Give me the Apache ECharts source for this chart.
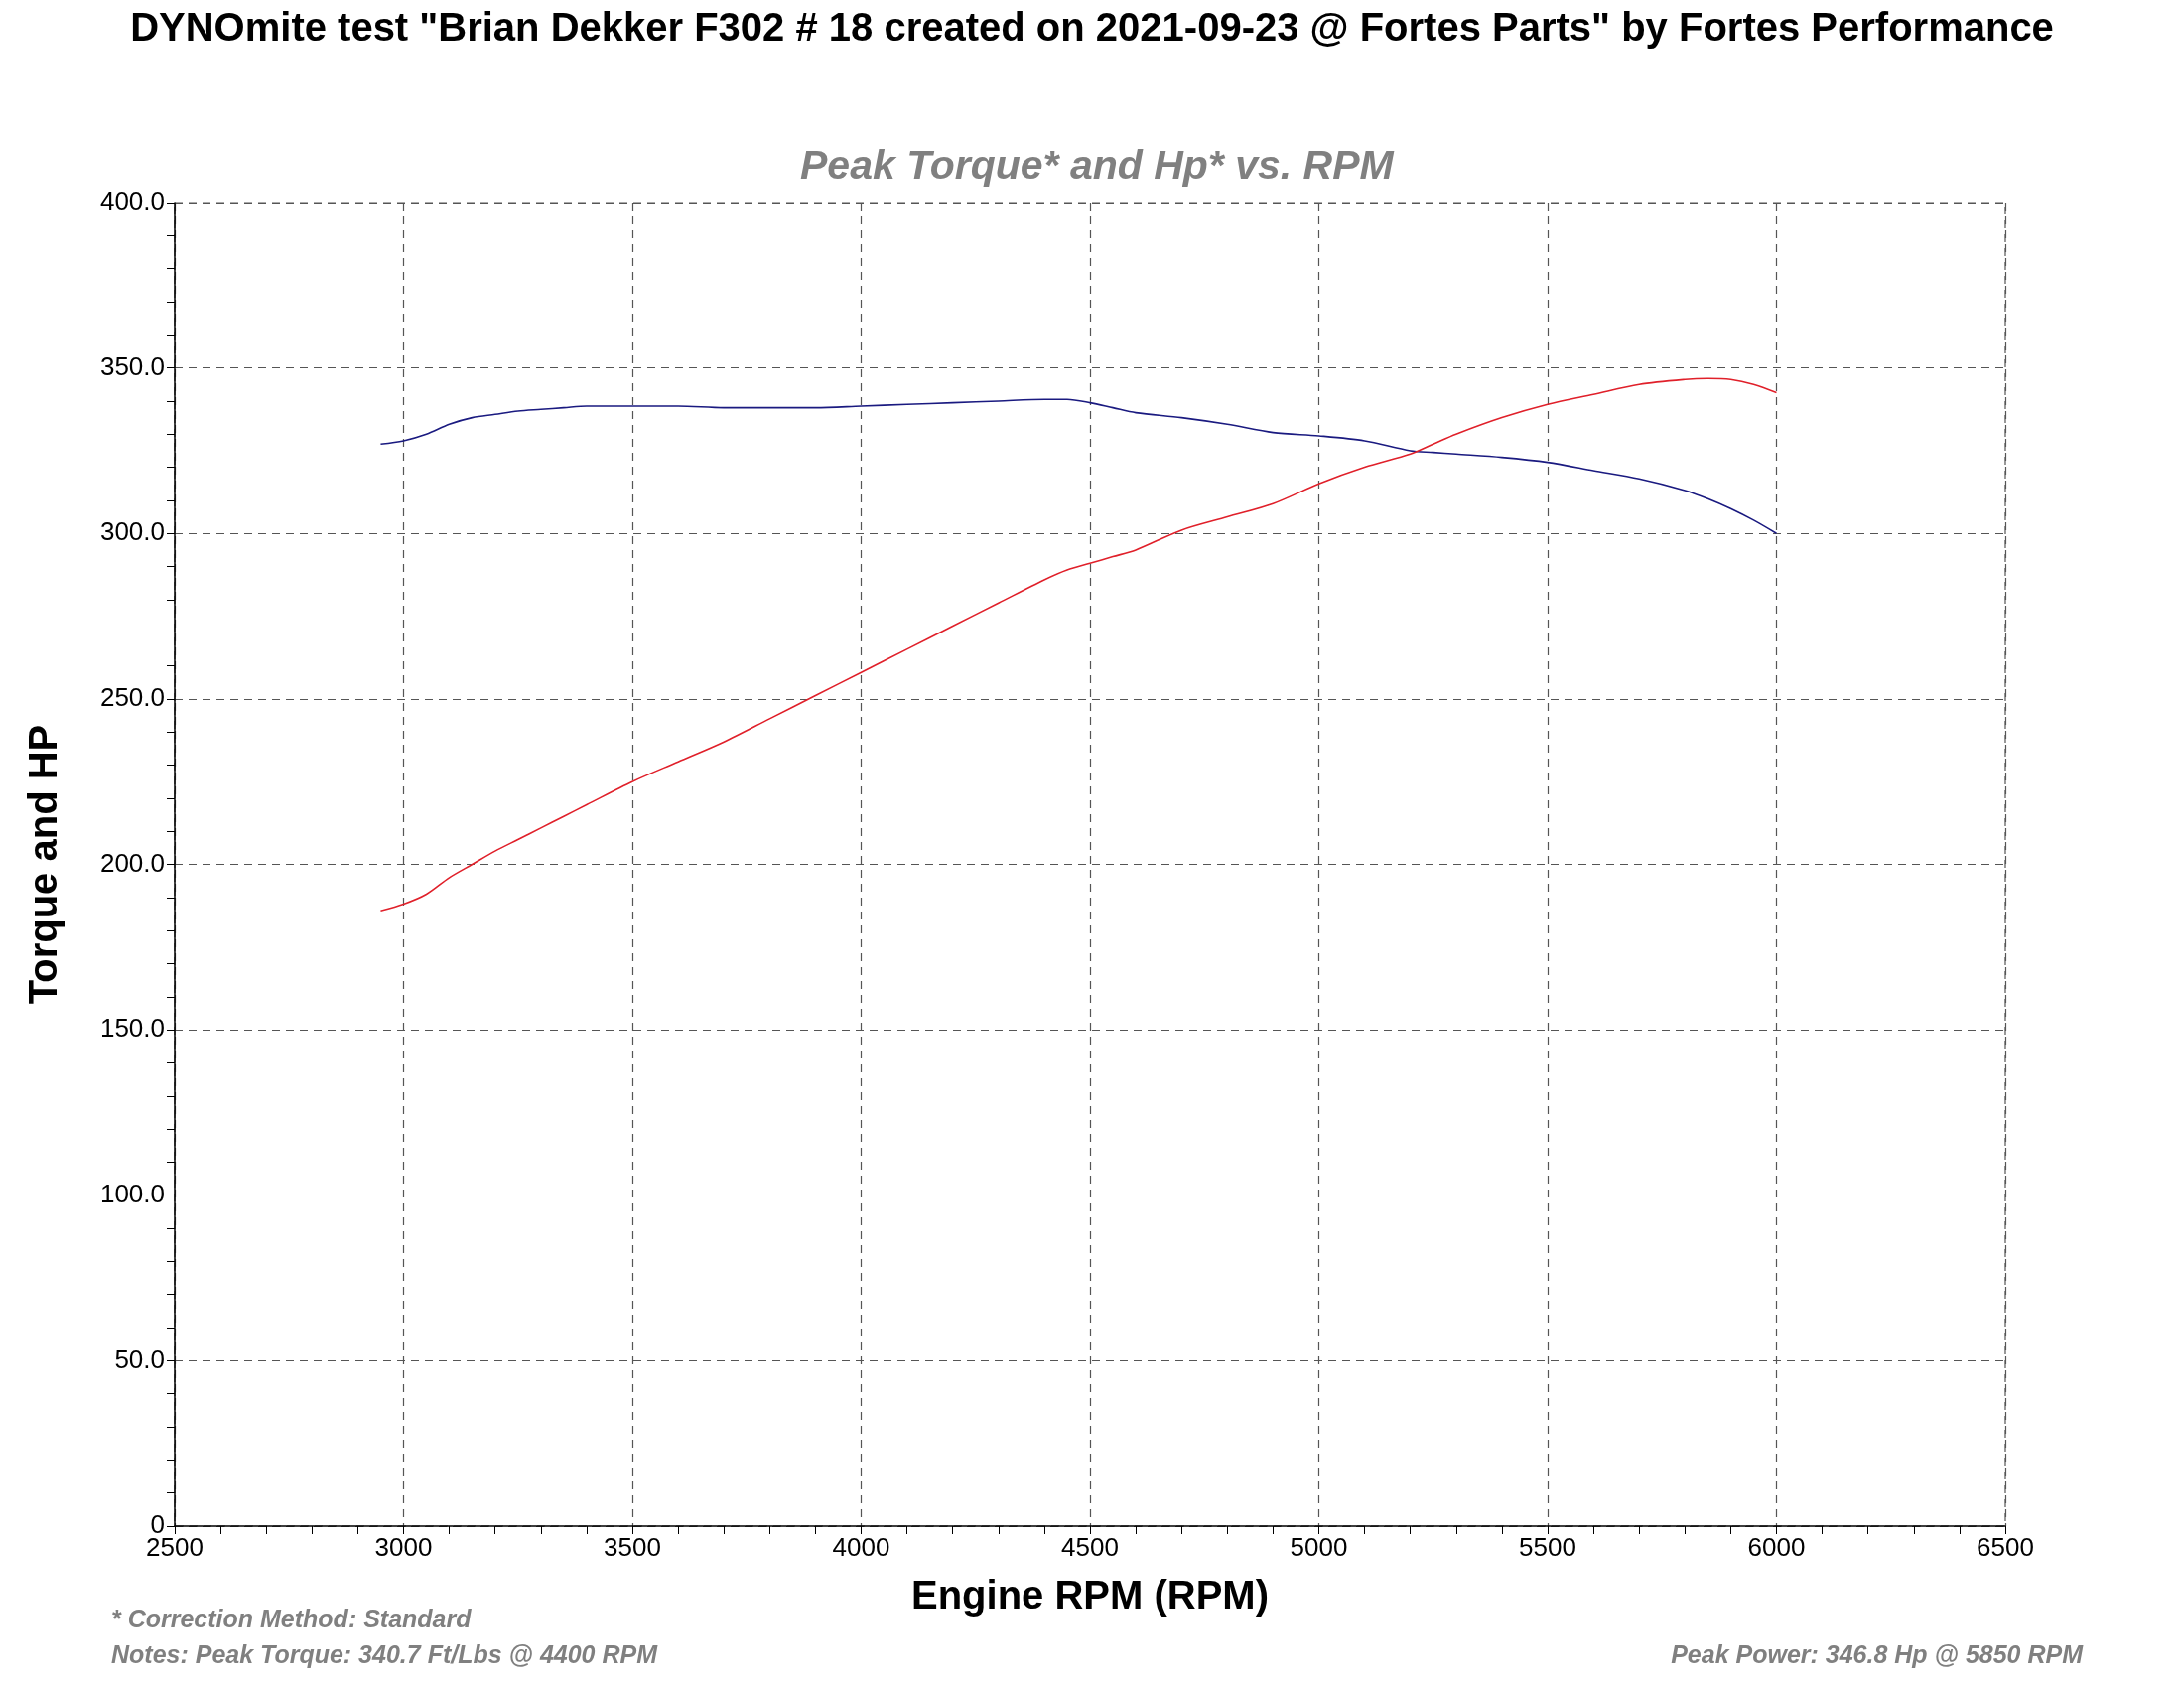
<!DOCTYPE html>
<html>
<head>
<meta charset="utf-8">
<script src="https://cdn.jsdelivr.net/npm/echarts@6/dist/echarts.min.js"></script>
<style>
  html, body { margin: 0; padding: 0; background: #fff; }
  #chart { width: 2200px; height: 1700px; }
</style>
</head>
<body>
<div id="chart"></div>
<script>
  var RPM = [2950, 3000, 3050, 3100, 3150, 3200, 3250, 3300, 3350, 3400, 3500, 3600, 3700, 3800, 3900,
             4000, 4100, 4200, 4300, 4400, 4450, 4500, 4550, 4600, 4700, 4800, 4900, 5000, 5100, 5200,
             5250, 5300, 5400, 5500, 5600, 5700, 5800, 5850, 5900, 5950, 6000];
  var TORQUE = [327, 328, 330, 333, 335, 336, 337, 337.5, 338, 338.5, 338.5, 338.5, 338, 338, 338,
                338.5, 339, 339.5, 340, 340.5, 340.5, 339.5, 338, 336.5, 335, 333, 330.5, 329.5, 328, 325,
                324.5, 324, 323, 321.5, 319, 316.5, 313, 310.5, 307.5, 304, 300];
  var HP = [186, 188, 191, 196, 200, 204, 207.5, 211, 214.5, 218, 225, 231, 237, 244, 251,
            258, 265, 272, 279, 286, 289, 291, 293, 295, 301, 305, 309, 315, 320, 324,
            327, 330, 335, 339, 342, 345, 346.5, 346.8, 346.5, 345, 342.5];

  var chart = echarts.init(document.getElementById("chart"), null, { renderer: "canvas" });
  var FONT = "Liberation Sans, Arial, sans-serif";
  var L = 176, R = 180, T = 204, B = 163;

  function pair(ys) { return RPM.map(function (x, i) { return [x, ys[i]]; }); }

  chart.setOption({
    backgroundColor: "#fff",
    animation: false,
    grid: { left: L, right: R, top: T, bottom: B },
    graphic: [
      { type: "text", left: "center", top: 10,
        style: { text: 'DYNOmite test "Brian Dekker F302 # 18 created on 2021-09-23 @ Fortes Parts" by Fortes Performance',
                 font: "bold 40px " + FONT, fill: "#000" } },
      { type: "text", left: 806, top: 148,
        style: { text: "Peak Torque* and Hp* vs. RPM", font: "italic bold 41px " + FONT, fill: "#808080" } },
      { type: "text", left: 112, top: 1620,
        style: { text: "* Correction Method: Standard", font: "italic bold 25px " + FONT, fill: "#808080" } },
      { type: "text", left: 112, top: 1656,
        style: { text: "Notes: Peak Torque: 340.7 Ft/Lbs @ 4400 RPM", font: "italic bold 25px " + FONT, fill: "#808080" } },
      { type: "text", right: 102, top: 1656,
        style: { text: "Peak Power: 346.8 Hp @ 5850 RPM", font: "italic bold 25px " + FONT, fill: "#808080" } },
      { type: "rect", shape: { x: L, y: T, width: 2200 - L - R, height: 1700 - T - B },
        style: { fill: "none", stroke: "#555", lineWidth: 1.2, lineDash: [8, 6] }, z: 0, silent: true }
    ],
    xAxis: {
      type: "value", min: 2500, max: 6500, interval: 500,
      name: "Engine RPM (RPM)", nameLocation: "middle", nameGap: 52,
      nameTextStyle: { fontFamily: FONT, fontWeight: "bold", fontSize: 40, color: "#000" },
      axisLine: { onZero: false, lineStyle: { color: "#000", width: 1.5 } },
      axisTick: { show: true, length: 8, lineStyle: { color: "#000" } },
      minorTick: { show: true, splitNumber: 5, length: 8, lineStyle: { color: "#000" } },
      axisLabel: { fontFamily: FONT, fontSize: 26, color: "#000", margin: 10,
                   formatter: function (v) { return String(v); } },
      splitLine: { show: true, lineStyle: { color: "#555", type: [8, 6], width: 1.2 } }
    },
    yAxis: {
      type: "value", min: 0, max: 400, interval: 50,
      name: "Torque and HP", nameLocation: "middle", nameGap: 110,
      nameTextStyle: { fontFamily: FONT, fontWeight: "bold", fontSize: 40, color: "#000" },
      axisLine: { show: true, lineStyle: { color: "#000", width: 1.5 } },
      axisTick: { show: true, length: 8, lineStyle: { color: "#000" } },
      minorTick: { show: true, splitNumber: 5, length: 8, lineStyle: { color: "#000" } },
      axisLabel: { fontFamily: FONT, fontSize: 26, color: "#000", margin: 10,
                   formatter: function (v) { return v === 0 ? "0" : v.toFixed(1); } },
      splitLine: { show: true, lineStyle: { color: "#555", type: [8, 6], width: 1.2 } }
    },
    series: [
      { name: "Torque", type: "line", data: pair(TORQUE), smooth: 0.3, showSymbol: false,
        lineStyle: { color: "#1a1a80", width: 1.6 } },
      { name: "HP", type: "line", data: pair(HP), smooth: 0.3, showSymbol: false,
        lineStyle: { color: "#e0202a", width: 1.6 } }
    ]
  });
</script>
</body>
</html>
